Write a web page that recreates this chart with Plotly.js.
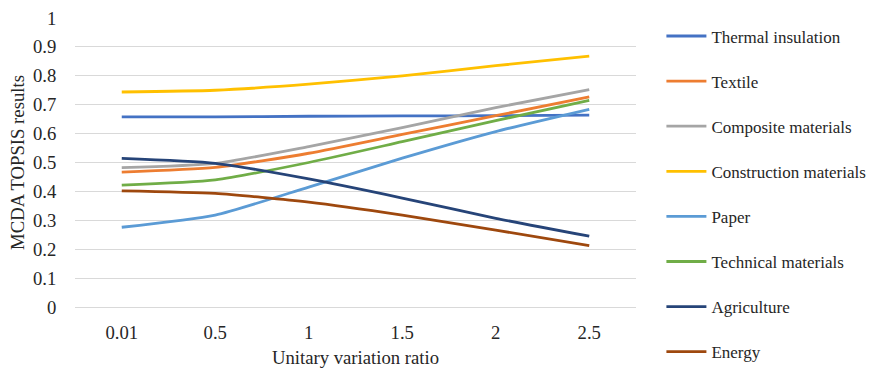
<!DOCTYPE html>
<html>
<head>
<meta charset="utf-8">
<script src="https://cdn.plot.ly/plotly-3.0.1.min.js"></script>
<style>
  html, body { margin: 0; padding: 0; background: #fff; }
  #chart { width: 871px; height: 369px; }
</style>
</head>
<body>
<div id="chart"></div>
<script>
// Unitary variation ratios (categorical x axis)
const ratios = ['0.01', '0.5', '1', '1.5', '2', '2.5'];

// MCDA TOPSIS results per sector
const thermalInsulation     = [0.658, 0.658, 0.660, 0.661, 0.662, 0.664];
const textile               = [0.467, 0.483, 0.532, 0.597, 0.662, 0.727];
const compositeMaterials    = [0.482, 0.497, 0.555, 0.621, 0.690, 0.752];
const constructionMaterials = [0.744, 0.750, 0.771, 0.800, 0.835, 0.868];
const paper                 = [0.276, 0.318, 0.415, 0.515, 0.607, 0.684];
const technicalMaterials    = [0.422, 0.440, 0.500, 0.572, 0.645, 0.715];
const agriculture           = [0.514, 0.497, 0.443, 0.377, 0.307, 0.245];
const energy                = [0.402, 0.393, 0.363, 0.318, 0.266, 0.212];

const seriesNames = ['Thermal insulation', 'Textile', 'Composite materials',
  'Construction materials', 'Paper', 'Technical materials', 'Agriculture', 'Energy'];
const seriesValues = [thermalInsulation, textile, compositeMaterials,
  constructionMaterials, paper, technicalMaterials, agriculture, energy];
const seriesColors = ['#4472C4', '#ED7D31', '#A5A5A5', '#FFC000',
  '#5B9BD5', '#70AD47', '#264478', '#9E480E'];

const traces = seriesNames.map((name, i) => ({
  type: 'scatter',
  mode: 'lines',
  name: name,
  legendgroup: 'g' + i,
  x: ratios,
  y: seriesValues[i],
  line: { color: seriesColors[i], width: 2.8, shape: 'spline', smoothing: 0.6 },
  hoverinfo: 'x+y+name'
}));

const serif = 'Times New Roman, Liberation Serif, DejaVu Serif, serif';
const font = (size) => ({ family: serif, size: size, color: '#262626' });

const layout = {
  width: 871,
  height: 369,
  margin: { l: 75, r: 235, t: 18, b: 62, autoexpand: false },
  paper_bgcolor: '#ffffff',
  plot_bgcolor: '#ffffff',
  font: font(18.7),
  showlegend: true,
  legend: {
    x: 1.0453, xanchor: 'left',
    y: 0.9985, yanchor: 'top',
    traceorder: 'grouped',
    tracegroupgap: 20,
    itemwidth: 40,
    maxheight: 400,
    font: font(17),
    bgcolor: 'rgba(0,0,0,0)'
  },
  xaxis: {
    type: 'category',
    range: [-0.5, 5.5],
    showgrid: false,
    zeroline: false,
    showline: false,
    ticks: 'outside',
    ticklen: 9,
    tickcolor: 'rgba(0,0,0,0)',
    tickfont: font(18.7),
    title: { text: 'Unitary variation ratio', font: font(18.7), standoff: 8 }
  },
  yaxis: {
    range: [0, 1],
    dtick: 0.1,
    showgrid: true,
    gridcolor: '#D9D9D9',
    gridwidth: 1,
    zeroline: true,
    zerolinecolor: '#D9D9D9',
    zerolinewidth: 1,
    showline: false,
    ticks: 'outside',
    ticklen: 14,
    tickcolor: 'rgba(0,0,0,0)',
    tickfont: font(18.7),
    title: { text: 'MCDA TOPSIS results', font: font(18.7), standoff: 3 }
  }
};

Plotly.newPlot('chart', traces, layout, { displayModeBar: false, staticPlot: true });
</script>
</body>
</html>
